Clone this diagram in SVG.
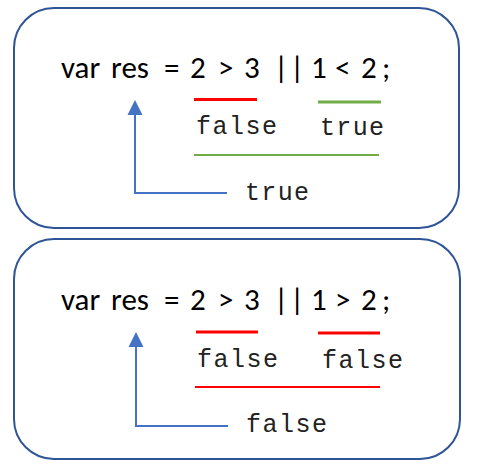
<svg xmlns="http://www.w3.org/2000/svg" width="480" height="467" viewBox="0 0 480 467">
<style>
.box{fill:#fff;stroke:#2F5597;stroke-width:2}
.code{font-family:Carlito,"Liberation Sans",sans-serif;font-size:31px;fill:#000}
.mono{font-family:"Liberation Mono","Courier New",monospace;font-size:25px;fill:#222}
.red{stroke:#FF0000;stroke-width:3}
.redt{stroke:#FF0000;stroke-width:2}
.grn{stroke:#70AD47;stroke-width:3}
.grnt{stroke:#70AD47;stroke-width:2}
.arr{fill:none;stroke:#4472C4;stroke-width:2}
.head{fill:#4472C4}
</style>
<g id="node1">
<rect class="box" x="14" y="8" width="445" height="220" rx="40" ry="40"/>
<text class="code" y="78"><tspan x="61">var</tspan><tspan x="111">res</tspan><tspan x="164">=</tspan><tspan x="190">2</tspan><tspan x="218">&gt;</tspan><tspan x="244">3</tspan><tspan x="274">|</tspan><tspan x="290">|</tspan><tspan x="311">1</tspan><tspan x="335">&lt;</tspan><tspan x="361">2</tspan><tspan x="382">;</tspan></text>
<text class="mono" x="196" y="134" textLength="81">false</text>
<text class="mono" x="320" y="135" textLength="64">true</text>
<text class="mono" x="245" y="200" textLength="64">true</text>
</g>
<g id="node2">
<rect class="box" x="14" y="239" width="446" height="220" rx="40" ry="40"/>
<text class="code" y="310"><tspan x="61">var</tspan><tspan x="111">res</tspan><tspan x="164">=</tspan><tspan x="190">2</tspan><tspan x="218">&gt;</tspan><tspan x="244">3</tspan><tspan x="274">|</tspan><tspan x="290">|</tspan><tspan x="311">1</tspan><tspan x="335">&gt;</tspan><tspan x="361">2</tspan><tspan x="382">;</tspan></text>
<text class="mono" x="197" y="367" textLength="81">false</text>
<text class="mono" x="322" y="368" textLength="81">false</text>
<text class="mono" x="246" y="432" textLength="81">false</text>
</g>
<g id="connectors">
<line class="red" x1="194" y1="99.5" x2="257" y2="99.5"/>
<line class="grn" x1="318" y1="102" x2="381" y2="102"/>
<line class="grnt" x1="194" y1="155" x2="379" y2="155"/>
<polygon class="head" points="127.5,115 142.5,115 135,100"/>
<polyline class="arr" points="227,193 135,193 135,114"/>
<line class="red" x1="196" y1="332" x2="258" y2="332"/>
<line class="red" x1="318" y1="333" x2="380" y2="333"/>
<line class="redt" x1="195" y1="387" x2="380" y2="387"/>
<polygon class="head" points="128.5,347 143.5,347 136,332"/>
<polyline class="arr" points="228,426 136,426 136,346"/>
</g>
</svg>
